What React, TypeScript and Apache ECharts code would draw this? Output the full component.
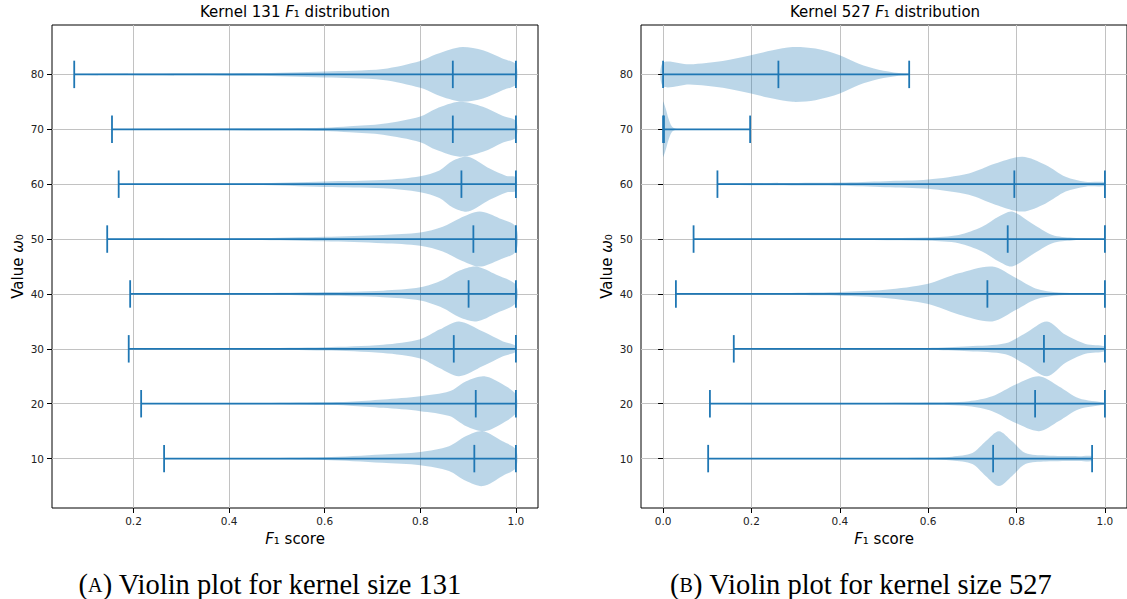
import React, { useEffect, useRef } from "react";
import * as echarts from "echarts";

// ---------- data ----------
const positions = [10, 20, 30, 40, 50, 60, 70, 80];
const yTicks = [10, 20, 30, 40, 50, 60, 70, 80];
const xTicks131 = [0.2, 0.4, 0.6, 0.8, 1.0];
const xTicks527 = [0.0, 0.2, 0.4, 0.6, 0.8, 1.0];

// Kernel 131 summary values (order follows positions)
const k131Min = [0.264, 0.216, 0.19, 0.193, 0.145, 0.169, 0.155, 0.076];
const k131Median = [0.913, 0.916, 0.87, 0.901, 0.911, 0.886, 0.868, 0.868];
const k131Max = [1.0, 1.0, 1.0, 1.0, 1.0, 1.0, 1.0, 1.0];

// Kernel 527 summary values
const k527Min = [0.102, 0.106, 0.16, 0.029, 0.069, 0.123, 0.0, 0.0];
const k527Median = [0.747, 0.842, 0.862, 0.734, 0.78, 0.795, 0.002, 0.261];
const k527Max = [0.971, 1.0, 1.0, 1.0, 1.0, 1.0, 0.197, 0.557];

// density profiles: [F1 value, relative half-width (1 = widest)]
const k131_10 = [[0.264, 0.01], [0.45, 0.02], [0.6, 0.05], [0.72, 0.15], [0.8, 0.24], [0.86, 0.45], [0.896, 0.82], [0.931, 1.0], [0.972, 0.63], [1.0, 0.33]];
const k131_20 = [[0.216, 0.01], [0.45, 0.02], [0.6, 0.05], [0.652, 0.07], [0.722, 0.15], [0.8, 0.27], [0.861, 0.45], [0.896, 0.82], [0.934, 1.0], [0.973, 0.7], [1.0, 0.33]];
const k131_30 = [[0.19, 0.01], [0.45, 0.03], [0.6, 0.06], [0.722, 0.15], [0.8, 0.35], [0.84, 0.7], [0.881, 1.0], [0.931, 0.63], [0.973, 0.27], [1.0, 0.11]];
const k131_40 = [[0.193, 0.01], [0.45, 0.03], [0.6, 0.07], [0.722, 0.12], [0.8, 0.24], [0.847, 0.51], [0.882, 0.85], [0.917, 1.0], [0.959, 0.7], [1.0, 0.33]];
const k131_50 = [[0.145, 0.01], [0.45, 0.03], [0.6, 0.08], [0.722, 0.15], [0.8, 0.24], [0.847, 0.45], [0.882, 0.75], [0.924, 1.0], [0.966, 0.75], [1.0, 0.45]];
const k131_60 = [[0.169, 0.01], [0.45, 0.03], [0.6, 0.1], [0.722, 0.15], [0.8, 0.29], [0.84, 0.5], [0.868, 0.85], [0.9, 1.0], [0.945, 0.57], [0.98, 0.3], [1.0, 0.25]];
const k131_70 = [[0.155, 0.01], [0.45, 0.04], [0.6, 0.06], [0.652, 0.11], [0.722, 0.2], [0.8, 0.47], [0.833, 0.75], [0.882, 1.0], [0.931, 0.82], [0.973, 0.48], [1.0, 0.3]];
const k131_80 = [[0.076, 0.02], [0.45, 0.05], [0.6, 0.11], [0.722, 0.2], [0.8, 0.49], [0.833, 0.73], [0.861, 0.9], [0.889, 1.0], [0.931, 0.88], [0.973, 0.57], [1.0, 0.36]];

const k527_10 = [[0.102, 0.01], [0.4, 0.02], [0.6, 0.03], [0.654, 0.07], [0.7, 0.2], [0.73, 0.63], [0.76, 1.0], [0.79, 0.63], [0.82, 0.2], [0.866, 0.11], [0.941, 0.09], [0.971, 0.09]];
const k527_20 = [[0.106, 0.01], [0.4, 0.02], [0.6, 0.04], [0.692, 0.09], [0.745, 0.27], [0.798, 0.7], [0.851, 1.0], [0.896, 0.63], [0.941, 0.2], [1.0, 0.03]];
const k527_30 = [[0.16, 0.01], [0.45, 0.02], [0.6, 0.03], [0.692, 0.09], [0.775, 0.2], [0.82, 0.57], [0.869, 1.0], [0.911, 0.51], [0.956, 0.18], [1.0, 0.09]];
const k527_40 = [[0.029, 0.01], [0.2, 0.02], [0.352, 0.05], [0.4, 0.07], [0.503, 0.15], [0.6, 0.37], [0.669, 0.75], [0.745, 1.0], [0.8, 0.57], [0.843, 0.2], [0.896, 0.05], [1.0, 0.01]];
const k527_50 = [[0.069, 0.01], [0.352, 0.03], [0.6, 0.06], [0.669, 0.15], [0.722, 0.45], [0.76, 0.82], [0.79, 1.0], [0.835, 0.57], [0.881, 0.15], [0.926, 0.05], [1.0, 0.01]];
const k527_60 = [[0.123, 0.02], [0.352, 0.05], [0.4, 0.06], [0.503, 0.11], [0.6, 0.17], [0.692, 0.39], [0.752, 0.75], [0.813, 1.0], [0.866, 0.7], [0.911, 0.27], [0.956, 0.09], [1.0, 0.07]];
const k527_70 = [[0.0, 1.0], [0.006, 0.75], [0.012, 0.4], [0.02, 0.1], [0.032, 0.01], [0.197, 0.004]];
const k527_80 = [[0.0, 0.43], [0.06, 0.37], [0.135, 0.49], [0.199, 0.7], [0.248, 0.88], [0.293, 1.0], [0.345, 0.94], [0.4, 0.7], [0.443, 0.39], [0.488, 0.17], [0.533, 0.05], [0.557, 0.02]];

const k131Profiles = [k131_10, k131_20, k131_30, k131_40, k131_50, k131_60, k131_70, k131_80];
const k527Profiles = [k527_10, k527_20, k527_30, k527_40, k527_50, k527_60, k527_70, k527_80];

// ---------- style ----------
const C0 = "#1f77b4";
const FILL = "rgba(31,119,180,0.3)";
const HALF = 5; // half violin width, in y units
const CAP = 2.5; // half length of min/median/max marks
const SANS = "DejaVu Sans";
const SERIF = "Liberation Serif";

function makeRender(profiles: number[][][]) {
  return (params: any, api: any) => {
    const pos = api.value(0);
    const mn = api.value(1);
    const med = api.value(2);
    const mx = api.value(3);
    const prof = profiles[params.dataIndex];
    const up = prof.map(([v, w]) => api.coord([v, pos + w * HALF]));
    const lo = prof
      .slice()
      .reverse()
      .map(([v, w]) => api.coord([v, pos - w * HALF]));
    const seg = (x1: number, y1: number, x2: number, y2: number) => {
      const a = api.coord([x1, y1]);
      const b = api.coord([x2, y2]);
      return {
        type: "line",
        shape: { x1: a[0], y1: a[1], x2: b[0], y2: b[1] },
        style: { stroke: C0, lineWidth: 1.8 },
      };
    };
    return {
      type: "group",
      children: [
        {
          type: "polygon",
          shape: { points: up.concat(lo), smooth: 0.3 },
          style: { fill: FILL },
        },
        seg(mn, pos, mx, pos),
        seg(mn, pos - CAP, mn, pos + CAP),
        seg(med, pos - CAP, med, pos + CAP),
        seg(mx, pos - CAP, mx, pos + CAP),
      ],
    };
  };
}

function xAxisFor(idx: number, min: number, max: number, ticks: number[]) {
  return {
    type: "value",
    gridIndex: idx,
    min,
    max,
    name: "{i|F}₁ score",
    nameLocation: "middle",
    nameGap: 23,
    nameTextStyle: {
      fontFamily: SANS,
      fontSize: 15,
      color: "#000",
      rich: { i: { fontFamily: SANS, fontStyle: "italic", fontSize: 15, color: "#000" } },
    },
    axisLine: { show: false },
    axisTick: { show: true, length: 5, customValues: ticks, lineStyle: { color: "#000", width: 1 } },
    axisLabel: {
      customValues: ticks,
      formatter: (v: number) => v.toFixed(1),
      fontFamily: SANS,
      fontSize: 10.5,
      color: "#222",
      margin: 7,
    },
    splitLine: { show: true, lineStyle: { color: "#c2c2c2", width: 1 } },
  };
}

function yAxisFor(idx: number) {
  return {
    type: "value",
    gridIndex: idx,
    min: 1,
    max: 89,
    name: "Value {i|ω}₀",
    nameLocation: "middle",
    nameGap: 27,
    nameTextStyle: {
      fontFamily: SANS,
      fontSize: 15,
      color: "#000",
      rich: { i: { fontFamily: SANS, fontStyle: "italic", fontSize: 15, color: "#000" } },
    },
    axisLine: { show: false },
    axisTick: { show: true, length: 5, customValues: yTicks, lineStyle: { color: "#000", width: 1 } },
    axisLabel: {
      customValues: yTicks,
      fontFamily: SANS,
      fontSize: 10.5,
      color: "#222",
      margin: 8,
    },
    splitLine: { show: true, lineStyle: { color: "#c2c2c2", width: 1 } },
  };
}

function titleFor(text: string, x: number, top: number, size: number, family: string, rich: any) {
  return {
    text,
    left: x,
    top,
    textAlign: "center",
    padding: 0,
    textStyle: { fontFamily: family, fontSize: size, fontWeight: "normal", color: "#000", rich },
  };
}

const italicRich = { i: { fontFamily: SANS, fontStyle: "italic", fontSize: 15, color: "#000" } };
const capRich = { sc: { fontFamily: SERIF, fontSize: 20, color: "#000" } };

export default function App() {
  const ref = useRef<HTMLDivElement>(null);
  useEffect(() => {
    if (!ref.current) return;
    const chart = echarts.init(ref.current, null, { renderer: "svg" });
    const rows131 = positions.map((p, i) => [p, k131Min[i], k131Median[i], k131Max[i]]);
    const rows527 = positions.map((p, i) => [p, k527Min[i], k527Median[i], k527Max[i]]);
    chart.setOption({
      animation: false,
      backgroundColor: "#fff",
      title: [
        titleFor("Kernel 131 {i|F}₁ distribution", 295, 4, 15, SANS, italicRich),
        titleFor("Kernel 527 {i|F}₁ distribution", 885, 4, 15, SANS, italicRich),
        titleFor("({sc|A}) Violin plot for kernel size 131", 270, 570, 28.5, SERIF, capRich),
        titleFor("({sc|B}) Violin plot for kernel size 527", 861, 570, 28.5, SERIF, capRich),
      ],
      grid: [
        { left: 52, top: 25, width: 486, height: 483, show: true, borderColor: "#000", borderWidth: 1, backgroundColor: "transparent" },
        { left: 641, top: 25, width: 487, height: 483, show: true, borderColor: "#000", borderWidth: 1, backgroundColor: "transparent" },
      ],
      xAxis: [xAxisFor(0, 0.0295, 1.0462, xTicks131), xAxisFor(1, -0.05, 1.05, xTicks527)],
      yAxis: [yAxisFor(0), yAxisFor(1)],
      series: [
        {
          type: "custom",
          xAxisIndex: 0,
          yAxisIndex: 0,
          renderItem: makeRender(k131Profiles),
          encode: { x: [1, 2, 3], y: 0 },
          data: rows131,
          z: 5,
        },
        {
          type: "custom",
          xAxisIndex: 1,
          yAxisIndex: 1,
          renderItem: makeRender(k527Profiles),
          encode: { x: [1, 2, 3], y: 0 },
          data: rows527,
          z: 5,
        },
      ],
    });
    return () => chart.dispose();
  }, []);
  return (
    <div
      ref={ref}
      style={{ position: "absolute", left: 0, top: 0, width: 1127, height: 599, background: "#fff" }}
    />
  );
}
